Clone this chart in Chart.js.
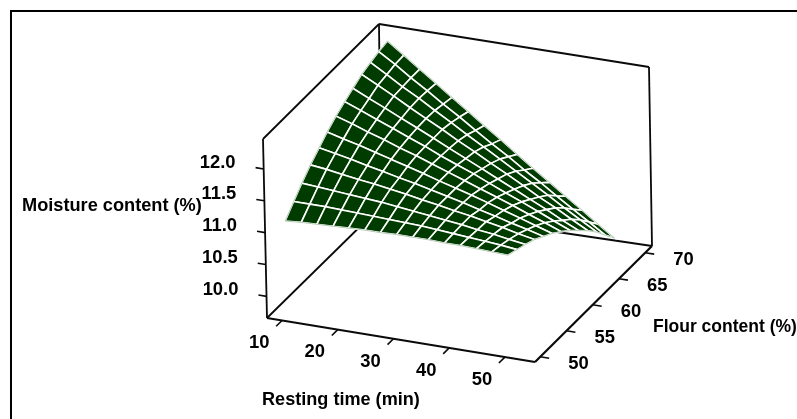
<!DOCTYPE html>
<html>
<head>
<meta charset="utf-8">
<title>Moisture content surface</title>
<script src="https://cdn.jsdelivr.net/npm/chart.js@4/dist/chart.umd.min.js"></script>
<style>
  html, body { margin: 0; padding: 0; background: #fff; overflow: hidden; }
  canvas { display: block; }
</style>
</head>
<body>
<canvas id="surfaceChart" width="797" height="419"></canvas>
<script>
const restingTime = [10, 12.9, 15.7, 18.6, 21.4, 24.3, 27.1, 30, 32.9, 35.7, 38.6, 41.4, 44.3, 47.1, 50];
const flourContent = [50, 51.7, 53.3, 55, 56.7, 58.3, 60, 61.7, 63.3, 65, 66.7, 68.3, 70];
// one row per flour level, one column per resting time
const moisture = [
  [11.14, 11.16, 11.17, 11.18, 11.19, 11.20, 11.20, 11.21, 11.21, 11.21, 11.20, 11.20, 11.19, 11.18, 11.17],
  [11.31, 11.31, 11.31, 11.30, 11.29, 11.28, 11.27, 11.26, 11.25, 11.23, 11.21, 11.19, 11.17, 11.15, 11.12],
  [11.47, 11.45, 11.43, 11.41, 11.39, 11.37, 11.34, 11.31, 11.28, 11.25, 11.22, 11.18, 11.15, 11.11, 11.07],
  [11.62, 11.59, 11.55, 11.51, 11.48, 11.44, 11.40, 11.35, 11.31, 11.26, 11.22, 11.17, 11.12, 11.06, 11.01],
  [11.75, 11.70, 11.65, 11.59, 11.54, 11.48, 11.43, 11.37, 11.31, 11.25, 11.18, 11.12, 11.05, 10.99, 10.92],
  [11.87, 11.80, 11.74, 11.67, 11.60, 11.53, 11.46, 11.38, 11.31, 11.24, 11.16, 11.08, 11.00, 10.92, 10.84],
  [11.98, 11.90, 11.81, 11.73, 11.64, 11.56, 11.47, 11.38, 11.29, 11.20, 11.11, 11.02, 10.92, 10.83, 10.73],
  [12.07, 11.97, 11.87, 11.77, 11.67, 11.57, 11.46, 11.36, 11.26, 11.15, 11.04, 10.94, 10.83, 10.72, 10.61],
  [12.15, 12.03, 11.92, 11.80, 11.69, 11.57, 11.45, 11.33, 11.21, 11.09, 10.97, 10.85, 10.73, 10.60, 10.48],
  [12.23, 12.10, 11.97, 11.83, 11.70, 11.57, 11.43, 11.30, 11.16, 11.03, 10.89, 10.75, 10.62, 10.48, 10.34],
  [12.28, 12.13, 11.98, 11.84, 11.69, 11.54, 11.39, 11.24, 11.09, 10.94, 10.79, 10.64, 10.48, 10.33, 10.18],
  [12.32, 12.16, 11.99, 11.83, 11.66, 11.50, 11.33, 11.16, 11.00, 10.83, 10.67, 10.50, 10.33, 10.17, 10.00],
  [12.35, 12.17, 11.99, 11.81, 11.63, 11.45, 11.27, 11.09, 10.90, 10.72, 10.54, 10.36, 10.18, 10.00, 9.82],
];
const timeTicks = [10, 20, 30, 40, 50];
const flourTicks = [50, 55, 60, 65, 70];
const moistureTicks = [10, 10.5, 11, 11.5, 12];

// ranges of the 3D box and where its corners land on the canvas
const T0 = 7.3, T1 = 55.4, F0 = 49, F1 = 71.3, Z0 = 9.66, Z1 = 12.47;
const floorCorners = { lf: [267, 318], rf: [535, 362], lb: [381, 206], rb: [652, 246] };
const topCorners = { lf: [263, 139], rf: [531, 182], lb: [379, 24], rb: [649, 67] };

function bilinear(c, u, v, i) {
  return (1 - u) * (1 - v) * c.lf[i] + u * (1 - v) * c.rf[i] + (1 - u) * v * c.lb[i] + u * v * c.rb[i];
}

function project(t, f, z) {
  const u = (t - T0) / (T1 - T0);
  const v = (f - F0) / (F1 - F0);
  const w = (z - Z0) / (Z1 - Z0);
  return {
    x: bilinear(floorCorners, u, v, 0) * (1 - w) + bilinear(topCorners, u, v, 0) * w,
    y: bilinear(floorCorners, u, v, 1) * (1 - w) + bilinear(topCorners, u, v, 1) * w,
  };
}

function lineSet(points, color, width) {
  return {
    data: points,
    showLine: true,
    fill: false,
    borderColor: color,
    borderWidth: width,
    pointRadius: 0,
    tension: 0,
    clip: false,
  };
}

const datasets = [];
const nt = restingTime.length, nf = flourContent.length;
const surfacePoint = (j, k) => project(restingTime[j], flourContent[k], moisture[k][j]);

// thin pale rim of the surface, on top of everything
const rim = [];
for (let j = 0; j < nt; j++) rim.push(surfacePoint(j, 0));
for (let k = 1; k < nf; k++) rim.push(surfacePoint(nt - 1, k));
for (let j = nt - 2; j >= 0; j--) rim.push(surfacePoint(j, nf - 1));
for (let k = nf - 2; k >= 0; k--) rim.push(surfacePoint(0, k));
datasets.push(lineSet(rim, "#b5c9b5", 1));

// cells go front to back because the first dataset is painted last
for (let k = 0; k < nf - 1; k++) {
  for (let j = nt - 2; j >= 0; j--) {
    const cell = [surfacePoint(j, k), surfacePoint(j + 1, k), surfacePoint(j + 1, k + 1), surfacePoint(j, k + 1), surfacePoint(j, k)];
    const set = lineSet(cell, "#ffffff", 1.6);
    set.fill = "shape";
    set.backgroundColor = "#003b00";
    datasets.push(set);
  }
}

// box edges, the two front floor edges are heavier
const axisColor = "#0a0a0a";
const edges = [
  [[T0, F0, Z0], [T1, F0, Z0], 2],
  [[T1, F0, Z0], [T1, F1, Z0], 2.2],
  [[T1, F1, Z0], [T0, F1, Z0], 1.8],
  [[T0, F1, Z0], [T0, F0, Z0], 1.8],
  [[T0, F0, Z0], [T0, F0, Z1], 1.8],
  [[T0, F0, Z1], [T0, F1, Z1], 1.8],
  [[T0, F1, Z1], [T1, F1, Z1], 1.8],
  [[T1, F1, Z1], [T1, F1, Z0], 1.8],
  [[T0, F1, Z1], [T0, F1, Z0], 1.8],
];
edges.forEach(function (e) {
  datasets.push(lineSet([project(...e[0]), project(...e[1])], axisColor, e[2]));
});

// tick marks
timeTicks.forEach(function (t) {
  datasets.push(lineSet([project(t, F0, Z0), project(t, F0 - 1.15, Z0)], axisColor, 1.6));
});
flourTicks.forEach(function (f) {
  datasets.push(lineSet([project(T1, f, Z0), project(T1 + 1.6, f, Z0)], axisColor, 1.6));
});
moistureTicks.forEach(function (z) {
  datasets.push(lineSet([project(T0, F0, z), project(T0 - 1.45, F0, z)], axisColor, 1.6));
});

const textPlugin = {
  id: "boxText",
  beforeDraw(chart) {
    const ctx = chart.ctx;
    ctx.save();
    ctx.strokeStyle = "#000";
    ctx.lineWidth = 2;
    ctx.beginPath();
    ctx.moveTo(11, 419);
    ctx.lineTo(11, 11);
    ctx.lineTo(797, 11);
    ctx.stroke();
    ctx.restore();
  },
  afterDraw(chart) {
    const ctx = chart.ctx;
    ctx.save();
    ctx.fillStyle = "#000";
    ctx.textBaseline = "alphabetic";
    ctx.font = "bold 18.4px 'Liberation Sans', Arial, sans-serif";

    ctx.textAlign = "right";
    moistureTicks.forEach(function (z) {
      const p = project(T0 - 1.45, F0, z);
      ctx.fillText(z.toFixed(1), p.x - 20, p.y);
    });
    ctx.textAlign = "center";
    timeTicks.forEach(function (t) {
      const p = project(t, F0 - 1.15, Z0);
      ctx.fillText(String(t), p.x - 17, p.y + 22);
    });
    ctx.textAlign = "left";
    flourTicks.forEach(function (f) {
      const p = project(T1 + 1.6, f, Z0);
      ctx.fillText(String(f), p.x + 19, p.y + 11);
    });

    ctx.font = "bold 18.2px 'Liberation Sans', Arial, sans-serif";
    ctx.fillText("Moisture content (%)", 22, 211);
    ctx.font = "bold 18.1px 'Liberation Sans', Arial, sans-serif";
    ctx.fillText("Resting time (min)", 262, 405);
    ctx.font = "bold 17.5px 'Liberation Sans', Arial, sans-serif";
    ctx.fillText("Flour content (%)", 653, 332);
    ctx.restore();
  },
};

new Chart(document.getElementById("surfaceChart"), {
  type: "scatter",
  data: { datasets: datasets },
  plugins: [textPlugin],
  options: {
    responsive: false,
    animation: false,
    layout: { padding: 0 },
    plugins: { legend: { display: false }, tooltip: { enabled: false } },
    scales: {
      x: { type: "linear", min: 0, max: 797, display: false },
      y: { type: "linear", min: 0, max: 419, reverse: true, display: false },
    },
  },
});
</script>
</body>
</html>
